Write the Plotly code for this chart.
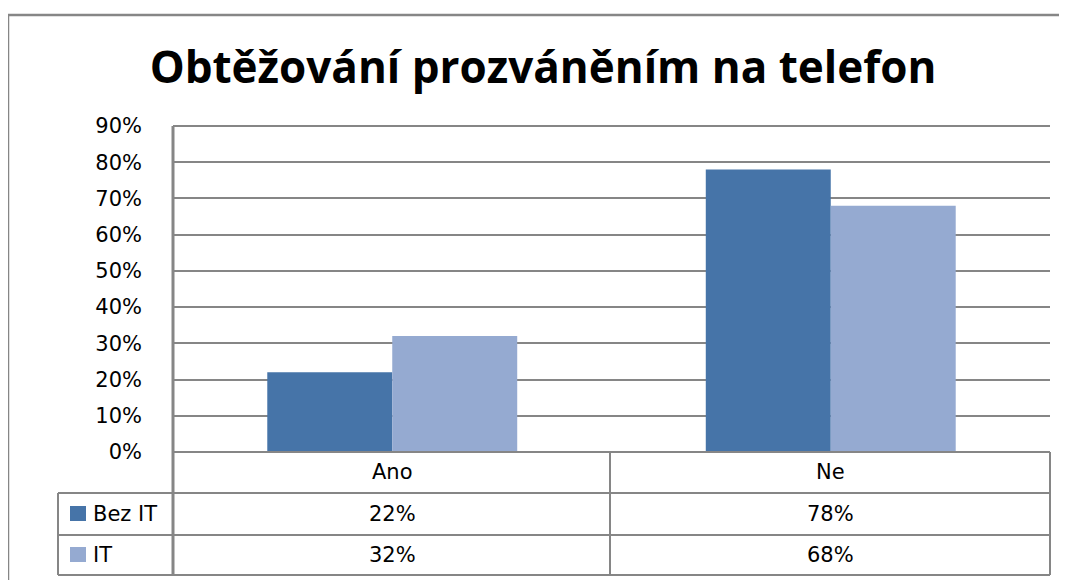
import plotly.graph_objects as go

categories = ["Ano", "Ne"]
series_names = ["Bez IT", "IT"]
bez_it = [0.22, 0.78]
it = [0.32, 0.68]
series_values = [bez_it, it]
colors = ["#4674A8", "#95AAD1"]
title_text = "Obtěžování prozváněním na telefon"

W, H = 1067, 580
OFF = 8  # page body margin offset
# plot area in page pixels: x 173..1050, y 126..452
L, T = 173 - OFF, 126 - OFF
R = W - (1050 - OFF)
B = H - (452 - OFF)
PW, PH = W - L - R, H - T - B
GRAY = "#868686"
TXT_FONT = "DejaVu Sans"
TXT_SIZE = 21


def px_x(px):
    return (px - OFF - L) / PW


def px_y(py):
    return (H - B - (py - OFF)) / PH


fig = go.Figure()
for name, vals, col in zip(series_names, series_values, colors):
    fig.add_trace(go.Bar(x=categories, y=vals, name=name, marker_color=col,
                         marker_line_width=0, showlegend=False))

shapes = []


def line(x0, y0, x1, y1, w=1.5):
    shapes.append(dict(type="line", xref="paper", yref="paper",
                       x0=px_x(x0), y0=px_y(y0), x1=px_x(x1), y1=px_y(y1),
                       line=dict(color=GRAY, width=w), layer="above"))


# outer chart border
line(8, 15, 1075, 15, 2.5)
line(8, 15, 8, 590, 2.5)
# plot top border
line(173, 126, 1050, 126, 2)
# data table
line(173, 452, 1050, 452, 2)
for yy in (493, 535, 575):
    line(58, yy, 1050, yy, 2)
line(58, 493, 58, 575, 2)
line(610, 452, 610, 575, 2)
line(1050, 452, 1050, 575, 2)
line(173, 126, 173, 576, 3)

annotations = []
row_y = [514, 555]
font = dict(family=TXT_FONT, size=TXT_SIZE, color="#000")
for cat in categories:
    annotations.append(dict(x=cat, xref="x", y=px_y(472), yref="paper", text=cat,
                            yanchor="middle", showarrow=False, font=font))
for r, (name, vals, col) in enumerate(zip(series_names, series_values, colors)):
    for cat, v in zip(categories, vals):
        annotations.append(dict(x=cat, xref="x", y=px_y(row_y[r]), yref="paper",
                                text=f"{round(v * 100)}%", yanchor="middle",
                                showarrow=False, font=font))
    annotations.append(dict(x=px_x(91), xref="paper", y=px_y(row_y[r]), yref="paper",
                            text=name, xanchor="left", yanchor="middle",
                            showarrow=False, font=font))
    shapes.append(dict(type="rect", xref="paper", yref="paper",
                       x0=px_x(70), x1=px_x(86), y0=px_y(row_y[r] - 8), y1=px_y(row_y[r] + 7),
                       fillcolor=col, line=dict(width=0)))

fig.update_layout(
    width=W, height=H,
    margin=dict(l=L, r=R, t=T, b=B),
    paper_bgcolor="white", plot_bgcolor="white",
    barmode="group", bargap=0.43, bargroupgap=0,
    title=dict(text=f"<b>{title_text}</b>", x=(543 - OFF) / W, xanchor="center",
               y=1 - (68 - OFF) / H, yanchor="middle", yref="container",
               font=dict(family="Open Sans", size=44, color="#000")),
    xaxis=dict(showticklabels=False, showgrid=False, zeroline=False, showline=False),
    yaxis=dict(range=[0, 0.9], dtick=0.1, tick0=0, tickformat=".0%",
               showgrid=True, gridcolor=GRAY, gridwidth=1.5, zeroline=False,
               showline=False, ticks="", ticklabelstandoff=30,
               tickfont=dict(family=TXT_FONT, size=TXT_SIZE, color="#000")),
    shapes=shapes, annotations=annotations,
)

fig.write_html("out.html")
